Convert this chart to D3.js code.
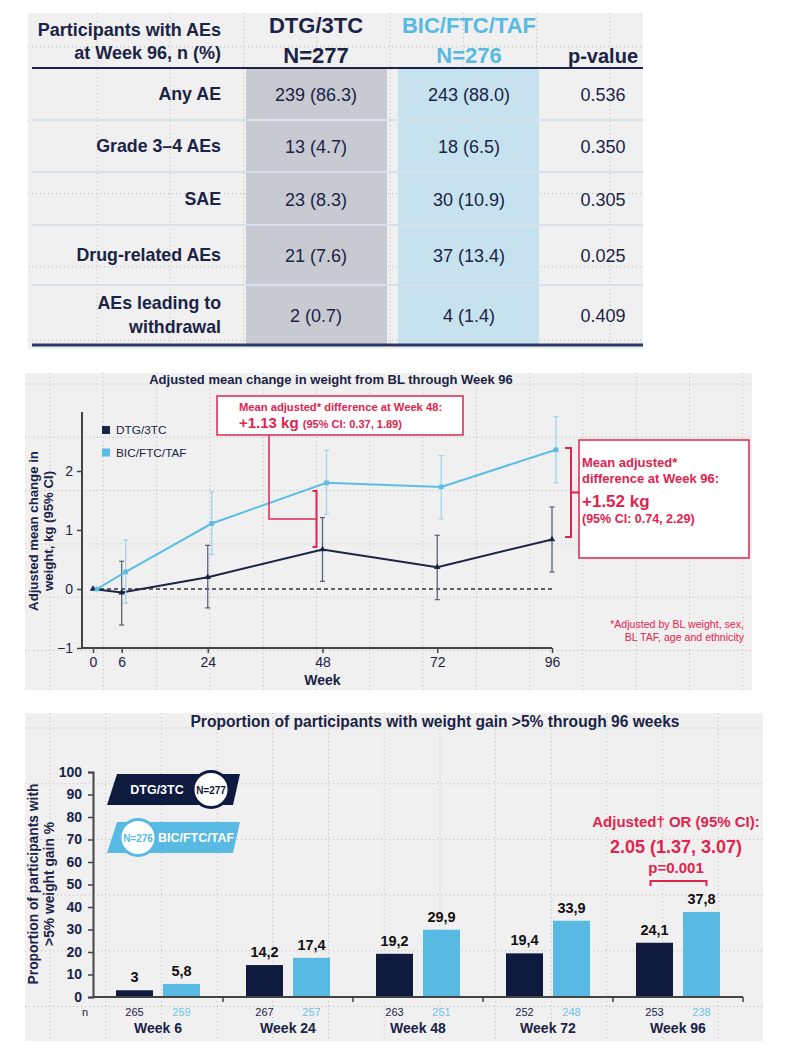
<!DOCTYPE html>
<html><head><meta charset="utf-8">
<script src="https://cdn.jsdelivr.net/npm/d3@7"></script>
<style>
html,body{margin:0;padding:0;background:#fff;}
svg{display:block;font-family:"Liberation Sans",Arial,Helvetica,sans-serif;}
</style></head><body>
<svg id="c" width="791" height="1061"></svg>
<script>
// ================= DATA =================
// Table
const tableRowLabels = [["Any AE"], ["Grade 3–4 AEs"], ["SAE"], ["Drug-related AEs"], ["AEs leading to", "withdrawal"]];
const tableDtg = ["239 (86.3)", "13 (4.7)", "23 (8.3)", "21 (7.6)", "2 (0.7)"];
const tableBic = ["243 (88.0)", "18 (6.5)", "30 (10.9)", "37 (13.4)", "4 (1.4)"];
const tablePValues = ["0.536", "0.350", "0.305", "0.025", "0.409"];
const tableHeaderLeft = ["Participants with AEs", "at Week 96, n (%)"];
const tableHeaderDtg = ["DTG/3TC", "N=277"];
const tableHeaderBic = ["BIC/FTC/TAF", "N=276"];
const tableHeaderP = "p-value";

// Weight change line chart
const weeks = [0, 6, 24, 48, 72, 96];
const dtgMean = [0, -0.06, 0.20, 0.67, 0.37, 0.84];
const dtgLow  = [0, -0.61, -0.32, 0.13, -0.18, 0.29];
const dtgHigh = [0, 0.47, 0.74, 1.21, 0.91, 1.39];
const bicMean = [0, 0.29, 1.11, 1.80, 1.73, 2.36];
const bicLow  = [0, -0.24, 0.58, 1.27, 1.19, 1.80];
const bicHigh = [0, 0.83, 1.65, 2.35, 2.26, 2.92];
const weightTicks = [-1, 0, 1, 2];
const weekTicks = [0, 6, 24, 48, 72, 96];
const lineSeries = ["DTG/3TC", "BIC/FTC/TAF"];
const note48 = ["Mean adjusted* difference at Week 48:", "+1.13 kg", "(95% CI: 0.37, 1.89)"];
const note96 = ["Mean adjusted*", "difference at Week 96:", "+1.52 kg", "(95% CI: 0.74, 2.29)"];
const bracket48 = [0.71, 1.66];   // value range of bracket at week 48
const bracket96 = [0.88, 2.39];   // value range of bracket at week 96
const footnote = ["*Adjusted by BL weight, sex,", "BL TAF, age and ethnicity"];

// Bar chart
const barWeeks = ["Week 6", "Week 24", "Week 48", "Week 72", "Week 96"];
const barDtg = [3, 14.2, 19.2, 19.4, 24.1];
const barBic = [5.8, 17.4, 29.9, 33.9, 37.8];
const nDtg = [265, 267, 263, 252, 253];
const nBic = [259, 257, 251, 248, 238];
const barTicks = [0, 10, 20, 30, 40, 50, 60, 70, 80, 90, 100];
const orNote = ["Adjusted† OR (95% CI):", "2.05 (1.37, 3.07)", "p=0.001"];

// ================= STYLE =================
const NAVY = "#1b2346", DARK = "#0f1b3e", BLUE = "#58bae3", RED = "#e0244d", BG = "#f0f0f0";
const svg = d3.select("#c");

function panel(x, y, w, h, step, ox, oy) {
  svg.append("rect").attr("x", x).attr("y", y).attr("width", w).attr("height", h).attr("fill", BG);
  const g = svg.append("g").attr("stroke", "#b9b9b9").attr("stroke-width", 1).attr("stroke-dasharray", "1,3");
  for (let gx = ox; gx < x + w; gx += step) g.append("line").attr("x1", gx).attr("x2", gx).attr("y1", y).attr("y2", y + h);
  for (let gy = oy; gy < y + h; gy += step) g.append("line").attr("x1", x).attr("x2", x + w).attr("y1", gy).attr("y2", gy);
}

// ================= TABLE =================
panel(28, 13, 615, 336, 73.3, 97, 47);
const rowEdges = [68, 120, 172, 225, 285, 345];
const colX = {label: 221, dtg: 316, bic: 469, p: 603};
svg.append("rect").attr("x", 246).attr("y", 68).attr("width", 141).attr("height", 277).attr("fill", "#c8cad2");
svg.append("rect").attr("x", 398).attr("y", 68).attr("width", 141).attr("height", 277).attr("fill", "#c5e2ee");
rowEdges.slice(1, -1).forEach(e => svg.append("line").attr("x1", 32).attr("x2", 643).attr("y1", e).attr("y2", e)
  .attr("stroke", "#d8e0e9").attr("stroke-width", 2));
svg.append("line").attr("x1", 32).attr("x2", 643).attr("y1", 68).attr("y2", 68).attr("stroke", NAVY).attr("stroke-width", 2);
svg.append("line").attr("x1", 32).attr("x2", 643).attr("y1", 345).attr("y2", 345).attr("stroke", "#2a3a66").attr("stroke-width", 3);

const th = svg.append("g").attr("font-weight", "bold");
tableHeaderLeft.forEach((t, i) => th.append("text").attr("x", colX.label).attr("y", 36 + i * 23)
  .attr("text-anchor", "end").attr("font-size", 18).attr("fill", NAVY).text(t));
tableHeaderDtg.forEach((t, i) => th.append("text").attr("x", colX.dtg).attr("y", 33 + i * 30)
  .attr("text-anchor", "middle").attr("font-size", 22).attr("fill", NAVY).text(t));
tableHeaderBic.forEach((t, i) => th.append("text").attr("x", colX.bic).attr("y", 33 + i * 30)
  .attr("text-anchor", "middle").attr("font-size", 22).attr("fill", BLUE).text(t));
th.append("text").attr("x", colX.p).attr("y", 63).attr("text-anchor", "middle").attr("font-size", 20)
  .attr("fill", NAVY).text(tableHeaderP);

tableRowLabels.forEach((lab, i) => {
  const cy = (rowEdges[i] + rowEdges[i + 1]) / 2;
  lab.forEach((t, j) => svg.append("text").attr("x", colX.label)
    .attr("y", cy + 6 + (j - (lab.length - 1) / 2) * 24)
    .attr("text-anchor", "end").attr("font-size", 17.8).attr("font-weight", "bold").attr("fill", NAVY).text(t));
  [[tableDtg[i], colX.dtg], [tableBic[i], colX.bic], [tablePValues[i], colX.p]].forEach(([t, x]) =>
    svg.append("text").attr("x", x).attr("y", cy + 7).attr("text-anchor", "middle")
      .attr("font-size", 18).attr("fill", NAVY).text(t));
});

// ================= LINE CHART =================
panel(25, 373, 727, 317, 53.3, 50, 384);
const xW = d3.scaleLinear().domain([0, 96]).range([93, 552]);
const yW = d3.scaleLinear().domain([-1, 3]).range([648, 412]);
const bicShift = 4;

svg.append("text").attr("x", 331).attr("y", 384).attr("text-anchor", "middle").attr("font-size", 13)
  .attr("font-weight", "bold").attr("fill", NAVY).text("Adjusted mean change in weight from BL through Week 96");

const yAx = svg.append("g").attr("transform", "translate(82,0)")
  .call(d3.axisLeft(yW).tickValues(weightTicks).tickSize(5).tickPadding(4).tickFormat(d => d < 0 ? "−" + Math.abs(d) : d));
const xAx = svg.append("g").attr("transform", "translate(0,648)")
  .call(d3.axisBottom(xW).tickValues(weekTicks).tickSize(5).tickPadding(4));
[yAx, xAx].forEach(a => {
  a.select(".domain").remove();
  a.selectAll("line").attr("stroke", "#444").attr("stroke-width", 1.5);
  a.selectAll("text").attr("font-size", 14).attr("fill", NAVY).attr("font-family", "Liberation Sans, Arial, sans-serif");
});
svg.append("line").attr("x1", 82).attr("x2", 82).attr("y1", yW(3)).attr("y2", yW(-1)).attr("stroke", "#444").attr("stroke-width", 2);
svg.append("line").attr("x1", 82).attr("x2", xW(96)).attr("y1", yW(-1)).attr("y2", yW(-1)).attr("stroke", "#444").attr("stroke-width", 2);
svg.append("text").attr("x", xW(48)).attr("y", 685).attr("text-anchor", "middle").attr("font-size", 14)
  .attr("font-weight", "bold").attr("fill", NAVY).text("Week");
const yl = svg.append("text").attr("transform", "translate(38,531) rotate(-90)").attr("text-anchor", "middle")
  .attr("font-size", 13.2).attr("font-weight", "bold").attr("fill", NAVY);
yl.append("tspan").attr("x", 0).attr("y", 0).text("Adjusted mean change in");
yl.append("tspan").attr("x", 0).attr("y", 15).text("weight, kg (95% CI)");

svg.append("line").attr("x1", xW(0)).attr("x2", xW(96)).attr("y1", yW(0)).attr("y2", yW(0))
  .attr("stroke", "#333").attr("stroke-width", 1.5).attr("stroke-dasharray", "4,3");

function series(mean, lo, hi, shift, color, errColor, shape) {
  const pts = weeks.map((w, i) => ({x: xW(w) + shift, m: mean[i], lo: lo[i], hi: hi[i]}));
  const g = svg.append("g");
  pts.filter(p => p.hi !== p.lo).forEach(p => {
    g.append("line").attr("x1", p.x).attr("x2", p.x).attr("y1", yW(p.lo)).attr("y2", yW(p.hi)).attr("stroke", errColor).attr("stroke-width", 1.3);
    [p.lo, p.hi].forEach(v => g.append("line").attr("x1", p.x - 2.5).attr("x2", p.x + 2.5).attr("y1", yW(v)).attr("y2", yW(v))
      .attr("stroke", errColor).attr("stroke-width", 1.3));
  });
  g.append("path").datum(pts).attr("fill", "none").attr("stroke", color).attr("stroke-width", 2)
    .attr("d", d3.line().x(p => p.x).y(p => yW(p.m)));
  g.selectAll(".m").data(pts).enter().append("path").attr("fill", color)
    .attr("transform", p => `translate(${p.x},${yW(p.m)})`)
    .attr("d", d3.symbol().type(shape).size(shape === d3.symbolSquare ? 22 : 18));
}
series(dtgMean, dtgLow, dtgHigh, 0, NAVY, "#5d6478", d3.symbolTriangle);
series(bicMean, bicLow, bicHigh, bicShift, "#5bbde6", "#9fd6ee", d3.symbolSquare);

// legend
lineSeries.forEach((s, i) => {
  const cy = 430 + i * 22.5;
  svg.append("rect").attr("x", 102).attr("y", cy - 4).attr("width", 8).attr("height", 8).attr("fill", i ? "#5bbde6" : NAVY);
  svg.append("text").attr("x", 116).attr("y", cy + 4).attr("font-size", 11.8).attr("fill", NAVY).text(s);
});

// annotation week 48
svg.append("rect").attr("x", 217).attr("y", 396).attr("width", 246).attr("height", 39).attr("fill", "#fff")
  .attr("stroke", RED).attr("stroke-width", 1.5);
svg.append("text").attr("x", 239).attr("y", 411).attr("font-size", 11.2).attr("font-weight", "bold").attr("fill", RED).text(note48[0]);
const t48 = svg.append("text").attr("x", 239).attr("y", 428).attr("font-weight", "bold").attr("fill", RED);
t48.append("tspan").attr("font-size", 15).text(note48[1] + " ");
t48.append("tspan").attr("font-size", 11).text(note48[2]);
const b48x = xW(48) - 6, b48mid = (yW(bracket48[0]) + yW(bracket48[1])) / 2;
svg.append("path").attr("fill", "none").attr("stroke", RED).attr("stroke-width", 1.5)
  .attr("d", `M269,435 V${b48mid} H${b48x}`);
svg.append("path").attr("fill", "none").attr("stroke", RED).attr("stroke-width", 2)
  .attr("d", `M${b48x - 4},${yW(bracket48[1])} H${b48x} V${yW(bracket48[0])} H${b48x - 4}`);

// annotation week 96
const b96x = xW(96) + 19, b96mid = (yW(bracket96[0]) + yW(bracket96[1])) / 2;
svg.append("path").attr("fill", "none").attr("stroke", RED).attr("stroke-width", 2)
  .attr("d", `M${b96x - 6},${yW(bracket96[1])} H${b96x} V${yW(bracket96[0])} H${b96x - 6} M${b96x},${b96mid} H579`);
svg.append("rect").attr("x", 579).attr("y", 440).attr("width", 170).attr("height", 118).attr("fill", "#fff")
  .attr("stroke", RED).attr("stroke-width", 1.5);
[[note96[0], 467, 13], [note96[1], 483, 13], [note96[2], 507, 17], [note96[3], 523, 12.5]].forEach(([t, y, fs]) =>
  svg.append("text").attr("x", 582).attr("y", y).attr("font-size", fs).attr("font-weight", "bold").attr("fill", RED).text(t));
footnote.forEach((t, i) => svg.append("text").attr("x", 744).attr("y", 628 + i * 12.5).attr("text-anchor", "end")
  .attr("font-size", 10.6).attr("fill", RED).text(t));

// ================= BAR CHART =================
panel(25, 713, 738, 328, 55.7, 50, 728);
svg.append("text").attr("x", 435).attr("y", 727).attr("text-anchor", "middle").attr("font-size", 15.6)
  .attr("font-weight", "bold").attr("fill", NAVY).text("Proportion of participants with weight gain >5% through 96 weeks");

const x0 = d3.scaleBand().domain(barWeeks).range([93, 743]).paddingInner(0).paddingOuter(0);
const x1 = d3.scaleBand().domain(["DTG", "BIC"]).range([0, x0.bandwidth()]).paddingInner(0.2128).paddingOuter(0.4894);
const yB = d3.scaleLinear().domain([0, 100]).range([997, 772]);
const fmt = v => d3.format("~g")(v).replace(".", ",");

const yBa = svg.append("g").attr("transform", "translate(93,0)")
  .call(d3.axisLeft(yB).tickValues(barTicks).tickSize(5).tickPadding(6));
yBa.select(".domain").attr("stroke", "#444").attr("stroke-width", 2);
yBa.selectAll("line").attr("stroke", "#444").attr("stroke-width", 1.5);
yBa.selectAll("text").attr("font-size", 14).attr("font-weight", "bold").attr("fill", NAVY).attr("font-family", "Liberation Sans, Arial, sans-serif");

const bars = barWeeks.flatMap((w, i) => [
  {w, k: "DTG", v: barDtg[i], n: nDtg[i], c: DARK, nc: NAVY},
  {w, k: "BIC", v: barBic[i], n: nBic[i], c: BLUE, nc: "#6cc4ea"}]);
svg.append("g").selectAll("rect").data(bars).enter().append("rect")
  .attr("x", d => x0(d.w) + x1(d.k)).attr("width", x1.bandwidth())
  .attr("y", d => yB(d.v)).attr("height", d => yB(0) - yB(d.v)).attr("fill", d => d.c);
svg.append("g").selectAll("text").data(bars).enter().append("text")
  .attr("x", d => x0(d.w) + x1(d.k) + x1.bandwidth() / 2).attr("y", d => yB(d.v) - 8)
  .attr("text-anchor", "middle").attr("font-size", 14.5).attr("font-weight", "bold").attr("fill", "#111").text(d => fmt(d.v));
svg.append("g").selectAll("text").data(bars).enter().append("text")
  .attr("x", d => x0(d.w) + x1(d.k) + x1.bandwidth() / 2).attr("y", 1016)
  .attr("text-anchor", "middle").attr("font-size", 11).attr("fill", d => d.nc).text(d => d.n);
svg.append("text").attr("x", 85).attr("y", 1016).attr("text-anchor", "middle").attr("font-size", 11).attr("fill", NAVY).text("n");
svg.append("g").selectAll("text").data(barWeeks).enter().append("text")
  .attr("x", d => x0(d) + x0.bandwidth() / 2).attr("y", 1033).attr("text-anchor", "middle")
  .attr("font-size", 14).attr("font-weight", "bold").attr("fill", NAVY).text(d => d);
// x axis
svg.append("line").attr("x1", 93).attr("x2", 743).attr("y1", yB(0)).attr("y2", yB(0)).attr("stroke", "#444").attr("stroke-width", 2);
barWeeks.slice(1).concat([null]).forEach(d => {
  const tx = d ? x0(d) : x0(barWeeks[barWeeks.length - 1]) + x0.bandwidth();
  svg.append("line").attr("x1", tx).attr("x2", tx).attr("y1", yB(0)).attr("y2", yB(0) + 5).attr("stroke", "#444").attr("stroke-width", 1.5);
});
const ybl = svg.append("text").attr("transform", "translate(38,884) rotate(-90)").attr("text-anchor", "middle")
  .attr("font-size", 13.8).attr("font-weight", "bold").attr("fill", NAVY);
ybl.append("tspan").attr("x", 0).attr("y", 0).text("Proportion of participants with");
ybl.append("tspan").attr("x", 0).attr("y", 16).text(">5% weight gain %");

// legend badges
function badge(y, fill, label, nText, circleX, labelX, stroke) {
  svg.append("path").attr("fill", fill).attr("d", `M117,${y} L240,${y} L233,${y + 31} L107,${y + 31} Z`);
  svg.append("text").attr("x", labelX).attr("y", y + 20).attr("text-anchor", "middle").attr("font-size", 12.5)
    .attr("font-weight", "bold").attr("fill", "#fff").text(label);
  svg.append("circle").attr("cx", circleX).attr("cy", y + 15.5).attr("r", 18).attr("fill", "#fff")
    .attr("stroke", stroke).attr("stroke-width", 3);
  svg.append("text").attr("x", circleX).attr("y", y + 19.5).attr("text-anchor", "middle").attr("font-size", 10)
    .attr("font-weight", "bold").attr("fill", stroke).text(nText);
}
badge(774, DARK, tableHeaderDtg[0], tableHeaderDtg[1], 211, 157, DARK);
badge(822, BLUE, tableHeaderBic[0], tableHeaderBic[1], 138, 196, BLUE);

// OR annotation
const lastW = barWeeks[barWeeks.length - 1];
const orX = x0(lastW) + x0.bandwidth() / 2 - 2;
[[orNote[0], 827, 15], [orNote[1], 853, 18], [orNote[2], 873, 15]].forEach(([t, y, fs]) =>
  svg.append("text").attr("x", orX).attr("y", y).attr("text-anchor", "middle").attr("font-size", fs)
    .attr("font-weight", "bold").attr("fill", RED).text(t));
const bl = x0(lastW) + x1("DTG") + x1.bandwidth() / 2 - 4, br = x0(lastW) + x1("BIC") + x1.bandwidth() / 2 + 5;
svg.append("path").attr("fill", "none").attr("stroke", RED).attr("stroke-width", 2)
  .attr("d", `M${bl},886 V881 H${br} V886`);
</script>
</body></html>
